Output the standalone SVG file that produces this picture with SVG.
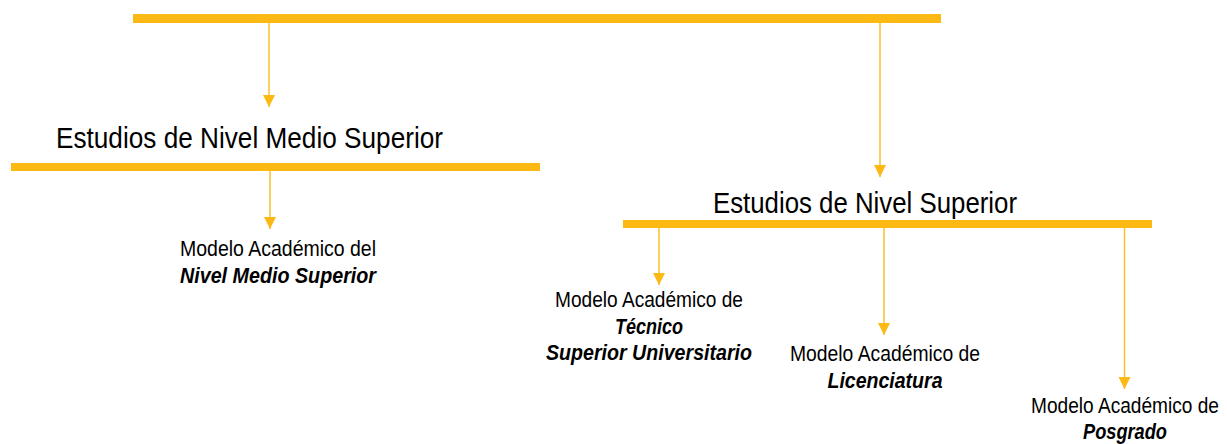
<svg xmlns="http://www.w3.org/2000/svg" width="1227" height="444" viewBox="0 0 1227 444">
  <style>
    .bar { fill: #FDB913; }
    .conn { stroke: #FBBF2E; stroke-width: 1.5; fill: none; marker-end: url(#arrow); }
    .title { font-family: "Liberation Sans", Arial, sans-serif; font-size: 30px; fill: #000; }
    .lbl { font-family: "Liberation Sans", Arial, sans-serif; font-size: 22px; fill: #000; text-anchor: middle; }
    .em { font-weight: bold; font-style: italic; }
  </style>
  <defs>
    <marker id="arrow" markerUnits="userSpaceOnUse" markerWidth="12" markerHeight="12" viewBox="0 0 10 10" refX="10" refY="5" orient="auto">
      <path d="M0,0 L10,5 L0,10 Z" fill="#FDB913"/>
    </marker>
  </defs>
  <rect width="1227" height="444" fill="#fff"/>

  <g id="top-bar">
    <rect class="bar" x="133" y="14" width="808" height="9"/>
  </g>

  <g id="connectors">
    <line class="conn" x1="269" y1="23" x2="269" y2="107"/>
    <line class="conn" x1="880" y1="23" x2="880" y2="177"/>
    <line class="conn" x1="270" y1="171" x2="270" y2="229"/>
    <line class="conn" x1="659" y1="228" x2="659" y2="285"/>
    <line class="conn" x1="884" y1="228" x2="884" y2="335"/>
    <line class="conn" x1="1124.5" y1="228" x2="1124.5" y2="389"/>
  </g>

  <g id="nivel-medio-superior">
    <text class="title" x="56" y="148" textLength="387" lengthAdjust="spacingAndGlyphs">Estudios de Nivel Medio Superior</text>
    <rect class="bar" x="11" y="163" width="529" height="8"/>
  </g>

  <g id="nivel-superior">
    <text class="title" x="713" y="213" textLength="304" lengthAdjust="spacingAndGlyphs">Estudios de Nivel Superior</text>
    <rect class="bar" x="623" y="220" width="529" height="8"/>
  </g>

  <g id="modelo-nms">
    <text class="lbl" x="278" y="256" textLength="196" lengthAdjust="spacingAndGlyphs">Modelo Académico del</text>
    <text class="lbl em" x="278" y="283" textLength="196" lengthAdjust="spacingAndGlyphs">Nivel Medio Superior</text>
  </g>

  <g id="modelo-tsu">
    <text class="lbl" x="649" y="307" textLength="188" lengthAdjust="spacingAndGlyphs">Modelo Académico de</text>
    <text class="lbl em" x="649" y="334" textLength="68" lengthAdjust="spacingAndGlyphs">Técnico</text>
    <text class="lbl em" x="649" y="360" textLength="206" lengthAdjust="spacingAndGlyphs">Superior Universitario</text>
  </g>

  <g id="modelo-licenciatura">
    <text class="lbl" x="885" y="361" textLength="190" lengthAdjust="spacingAndGlyphs">Modelo Académico de</text>
    <text class="lbl em" x="885" y="388" textLength="115" lengthAdjust="spacingAndGlyphs">Licenciatura</text>
  </g>

  <g id="modelo-posgrado">
    <text class="lbl" x="1125" y="413" textLength="188" lengthAdjust="spacingAndGlyphs">Modelo Académico de</text>
    <text class="lbl em" x="1125" y="439" textLength="84" lengthAdjust="spacingAndGlyphs">Posgrado</text>
  </g>
</svg>
